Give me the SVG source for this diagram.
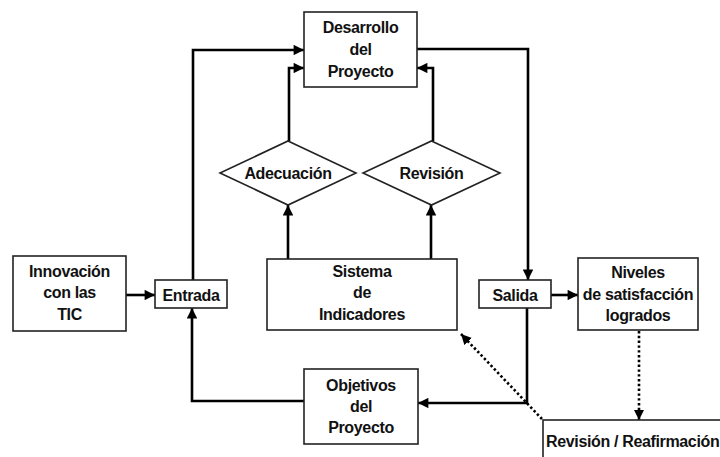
<svg xmlns="http://www.w3.org/2000/svg" width="720" height="457" viewBox="0 0 720 457">
  <defs>
    <marker id="arrow" viewBox="0 0 10 10" refX="10" refY="5" markerWidth="4.2" markerHeight="4" orient="auto" markerUnits="strokeWidth">
      <path d="M0,0 L10,5 L0,10 Z" fill="#000"/>
    </marker>
    <marker id="arrow-dot" viewBox="0 0 10 10" refX="10" refY="5" markerWidth="4" markerHeight="4" orient="auto" markerUnits="strokeWidth">
      <path d="M0,0 L10,5 L0,10 Z" fill="#000"/>
    </marker>
  </defs>
  <style>
    .box { fill: #fff; stroke: #222; stroke-width: 1.6; }
    .lbl { font-family: "Liberation Sans", Arial, sans-serif; font-weight: bold; font-size: 16px; letter-spacing: -0.35px; fill: #111; text-anchor: middle; }
    .edge { fill: none; stroke: #000; stroke-width: 2.6; }
    .dot { fill: none; stroke: #000; stroke-width: 2.6; stroke-dasharray: 2.4 2.4; }
  </style>
  <rect width="720" height="457" fill="#fff"/>

  <g id="connectors">
    <!-- Entrada up and into Desarrollo -->
    <polyline class="edge" points="193,280 193,50 304,50" marker-end="url(#arrow)"/>
    <!-- Adecuación to Desarrollo -->
    <polyline class="edge" points="289,141 289,68 304,68" marker-end="url(#arrow)"/>
    <!-- Revisión to Desarrollo -->
    <polyline class="edge" points="433,141 433,68 417,68" marker-end="url(#arrow)"/>
    <!-- Desarrollo to Salida -->
    <polyline class="edge" points="417,49 528,49 528,280" marker-end="url(#arrow)"/>
    <!-- Sistema to diamonds -->
    <line class="edge" x1="288" y1="259" x2="288" y2="205" marker-end="url(#arrow)"/>
    <line class="edge" x1="431" y1="259" x2="431" y2="205" marker-end="url(#arrow)"/>
    <!-- Innovación to Entrada -->
    <line class="edge" x1="126" y1="295" x2="155" y2="295" marker-end="url(#arrow)"/>
    <!-- Salida to Niveles -->
    <line class="edge" x1="551" y1="295" x2="578" y2="295" marker-end="url(#arrow)"/>
    <!-- Salida down to Objetivos -->
    <polyline class="edge" points="527,308 527,403 418,403" marker-end="url(#arrow)"/>
    <!-- Objetivos back to Entrada -->
    <polyline class="edge" points="304,401 192,401 192,308" marker-end="url(#arrow)"/>
    <!-- dotted feedback -->
    <line class="dot" x1="639" y1="331" x2="639" y2="420" marker-end="url(#arrow-dot)"/>
    <line class="dot" x1="542" y1="419" x2="461" y2="334" marker-end="url(#arrow-dot)"/>
  </g>

  <g id="desarrollo">
    <rect class="box" x="304" y="12" width="113" height="75"/>
    <text class="lbl" x="360.5" y="33">Desarrollo</text>
    <text class="lbl" x="360.5" y="55">del</text>
    <text class="lbl" x="360.5" y="77">Proyecto</text>
  </g>

  <g id="adecuacion">
    <polygon class="box" points="288,141 356,173 288,205 220,173"/>
    <text class="lbl" x="288" y="179">Adecuación</text>
  </g>

  <g id="revision">
    <polygon class="box" points="431.5,141 500,173 431.5,205 363,173"/>
    <text class="lbl" x="431.5" y="179">Revisión</text>
  </g>

  <g id="innovacion">
    <rect class="box" x="13" y="256" width="113" height="75"/>
    <text class="lbl" x="69.5" y="277">Innovación</text>
    <text class="lbl" x="69.5" y="298">con las</text>
    <text class="lbl" x="69.5" y="320">TIC</text>
  </g>

  <g id="entrada">
    <rect class="box" x="155" y="280" width="72" height="28"/>
    <text class="lbl" x="191" y="301">Entrada</text>
  </g>

  <g id="sistema">
    <rect class="box" x="267" y="259" width="190" height="71"/>
    <text class="lbl" x="362" y="277">Sistema</text>
    <text class="lbl" x="362" y="298">de</text>
    <text class="lbl" x="362" y="320">Indicadores</text>
  </g>

  <g id="salida">
    <rect class="box" x="479" y="280" width="72" height="28"/>
    <text class="lbl" x="515" y="301">Salida</text>
  </g>

  <g id="niveles">
    <rect class="box" x="578" y="258" width="120" height="72"/>
    <text class="lbl" x="638" y="278">Niveles</text>
    <text class="lbl" x="638" y="300">de satisfacción</text>
    <text class="lbl" x="638" y="321">logrados</text>
  </g>

  <g id="objetivos">
    <rect class="box" x="304" y="369" width="114" height="75"/>
    <text class="lbl" x="361" y="391">Objetivos</text>
    <text class="lbl" x="361" y="412">del</text>
    <text class="lbl" x="361" y="433">Proyecto</text>
  </g>

  <g id="revision-reafirmacion">
    <rect class="box" x="543" y="420" width="190" height="50"/>
    <text class="lbl" x="546" y="447" style="text-anchor:start">Revisión / Reafirmación</text>
  </g>
</svg>
